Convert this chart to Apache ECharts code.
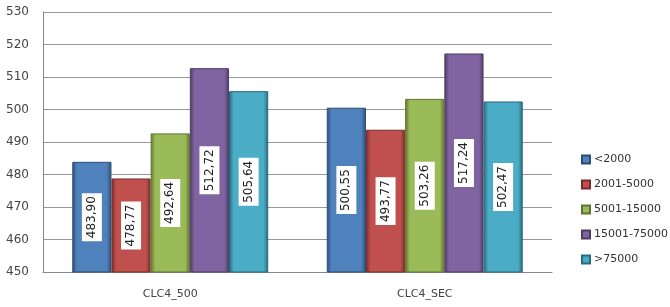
<!DOCTYPE html>
<html>
<head>
<meta charset="utf-8">
<script src="https://cdn.jsdelivr.net/npm/echarts@6/dist/echarts.min.js"></script>
<style>
  html, body { margin: 0; padding: 0; background: #fff; }
  #chart { width: 670px; height: 307px; }
</style>
</head>
<body>
<div id="chart"></div>
<script>
// categories and series
const categories = ['CLC4_500', 'CLC4_SEC'];
const seriesNames = ['<2000', '2001-5000', '5001-15000', '15001-75000', '>75000'];
const lt2000 = [483.90, 500.55];
const s2001_5000 = [478.77, 493.77];
const s5001_15000 = [492.64, 503.26];
const s15001_75000 = [512.72, 517.24];
const gt75000 = [505.64, 502.47];

const values = [lt2000, s2001_5000, s5001_15000, s15001_75000, gt75000];
const colors = [
  ['#4F81BD', '#2C4D75'],
  ['#C0504D', '#772C2A'],
  ['#9BBB59', '#5F7530'],
  ['#8064A2', '#4D3B62'],
  ['#4BACC6', '#276A7C']
];

function barFill(c) {
  return new echarts.graphic.LinearGradient(0, 0, 1, 0, [
    { offset: 0, color: c[1] },
    { offset: 0.12, color: c[0] },
    { offset: 0.5, color: c[0] },
    { offset: 0.88, color: c[0] },
    { offset: 1, color: c[1] }
  ]);
}

const fmt = v => v.toFixed(2).replace('.', ',');

const chart = echarts.init(document.getElementById('chart'));
chart.setOption({
  animation: false,
  textStyle: { fontFamily: 'DejaVu Sans' },
  grid: { left: 43, top: 12, width: 509, height: 260 },
  legend: {
    orient: 'vertical',
    left: 576,
    top: 149,
    icon: 'rect',
    itemWidth: 8,
    itemHeight: 8,
    itemGap: 14,
    textStyle: { color: '#333', fontSize: 11, padding: [0, 0, 0, -1] },
    data: seriesNames.map((n, i) => ({ name: n, itemStyle: { color: colors[i][0] } }))
  },
  xAxis: {
    type: 'category',
    data: categories,
    axisTick: { show: false },
    axisLine: { lineStyle: { color: '#888' } },
    axisLabel: { color: '#444', fontSize: 11, margin: 17 }
  },
  yAxis: {
    type: 'value',
    min: 450,
    max: 530,
    interval: 10,
    axisLine: { show: true, lineStyle: { color: '#888' } },
    axisTick: { show: false },
    splitLine: { lineStyle: { color: '#999' } },
    axisLabel: { color: '#444', fontSize: 12, margin: 14 }
  },
  series: values.map((d, i) => ({
    name: seriesNames[i],
    type: 'bar',
    data: d,
    barGap: '0%',
    barCategoryGap: '23%',
    itemStyle: { color: barFill(colors[i]), borderColor: colors[i][1], borderWidth: 1 },
    label: {
      show: true,
      position: 'inside',
      rotate: 90,
      formatter: p => fmt(p.value),
      color: '#222',
      fontSize: 12,
      backgroundColor: '#fff',
      padding: [4, 3]
    }
  }))
});
</script>
</body>
</html>
